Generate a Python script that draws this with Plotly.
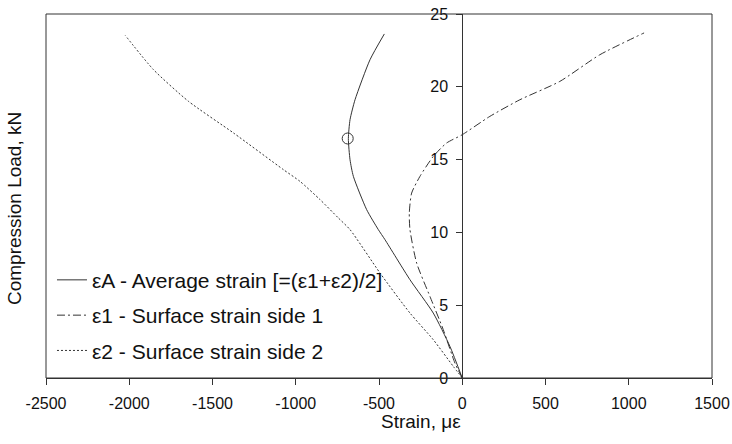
import plotly.graph_objects as go

# Data
epsA_load = [0, 2.17, 4.46, 6.75, 9.5, 10.19, 11.56, 13.85, 14.99, 16.44, 17.74, 19.11, 21.86, 23.63]
epsA_strain = [0, -74, -174, -314, -464, -504, -574, -654, -674, -684, -674, -644, -554, -468]

eps1_load = [0, 1.03, 3.32, 5.6, 7.9, 10.19, 11.33, 12.7, 13.85, 15.22, 16.14, 16.71, 17.97, 19.11, 20.37, 22.2, 23.7]
eps1_strain = [0, -44, -114, -194, -274, -314, -318, -304, -254, -174, -94, 0, 166, 346, 586, 826, 1092]

eps2_load = [0, 0.8, 2.63, 4.46, 7.21, 10.19, 10.99, 12.25, 13.5, 14.31, 16.83, 19.0, 21.17, 23.53]
eps2_strain = [0, -54, -174, -314, -494, -674, -744, -854, -974, -1074, -1374, -1644, -1854, -2024]

marker_load = [16.45]
marker_strain = [-688]

series_names = [
    "\u03b5A - Average strain [=(\u03b51+\u03b52)/2]",
    "\u03b51 - Surface strain side 1",
    "\u03b52 - Surface strain side 2",
]

x_ticks = [-2500, -2000, -1500, -1000, -500, 0, 500, 1000, 1500]
x_tick_labels = ["-2500", "-2000", "-1500", "-1000", "-500", "0", "500", "1000", "1500"]
y_ticks = [0, 5, 10, 15, 20, 25]
y_tick_labels = ["0", "5", "10", "15", "20", "25"]

LINE = "#333333"
FONT = "Liberation Sans, Arial, sans-serif"

fig = go.Figure()
fig.add_trace(go.Scatter(x=epsA_strain, y=epsA_load, mode="lines", name=series_names[0],
                         legendgroup="a", line=dict(color=LINE, width=1, shape="spline", smoothing=0.6)))
fig.add_trace(go.Scatter(x=eps1_strain, y=eps1_load, mode="lines", name=series_names[1],
                         legendgroup="b", line=dict(color=LINE, width=1, dash="8px,3px,2px,3px",
                                                    shape="spline", smoothing=0.6)))
fig.add_trace(go.Scatter(x=eps2_strain, y=eps2_load, mode="lines", name=series_names[2],
                         legendgroup="c", line=dict(color=LINE, width=1, dash="2px,2px",
                                                    shape="spline", smoothing=0.6)))
fig.add_trace(go.Scatter(x=marker_strain, y=marker_load, mode="markers", showlegend=False,
                         marker=dict(symbol="circle-open", size=11, color=LINE, line=dict(width=1, color=LINE))))

fig.update_layout(
    width=732, height=444,
    margin=dict(l=46, r=20, t=14, b=66, autoexpand=False),
    paper_bgcolor="white", plot_bgcolor="white",
    font=dict(family=FONT, color="#111111", size=16),
    showlegend=True,
    legend=dict(x=0.009, y=0.325, xanchor="left", yanchor="top",
                bgcolor="rgba(0,0,0,0)", font=dict(size=21, family=FONT),
                traceorder="grouped", tracegroupgap=5),
    xaxis=dict(range=[-2500, 1500], tickvals=x_ticks, ticktext=x_tick_labels,
               ticks="outside", ticklen=6, automargin=False, ticklabelstandoff=5,
               tickcolor=LINE, showline=True, linecolor=LINE, linewidth=1,
               showgrid=False, zeroline=False, tickfont=dict(size=16)),
    yaxis=dict(range=[0, 25], tickvals=y_ticks, ticktext=y_tick_labels,
               ticks="outside", ticklen=6, automargin=False, ticklabelstandoff=5,
               tickcolor=LINE, showline=True, linecolor=LINE, linewidth=1,
               anchor="free", position=0.625,
               showgrid=False, zeroline=False, tickfont=dict(size=16)),
    shapes=[dict(type="rect", xref="paper", yref="paper", x0=0, y0=0, x1=1, y1=1,
                 line=dict(color=LINE, width=1))],
    annotations=[
        dict(text="Strain, \u03bc\u03b5", xref="paper", yref="paper", x=0.563, y=-0.119,
             xanchor="center", yanchor="middle", showarrow=False, font=dict(size=19)),
        dict(text="Compression Load, kN", xref="paper", yref="paper", x=-0.0476, y=0.465,
             xanchor="center", yanchor="middle", textangle=-90, showarrow=False,
             font=dict(size=19)),
    ],
)

fig.write_html("out.html", config={"displayModeBar": False},
               post_script="document.body.style.margin='0';")
